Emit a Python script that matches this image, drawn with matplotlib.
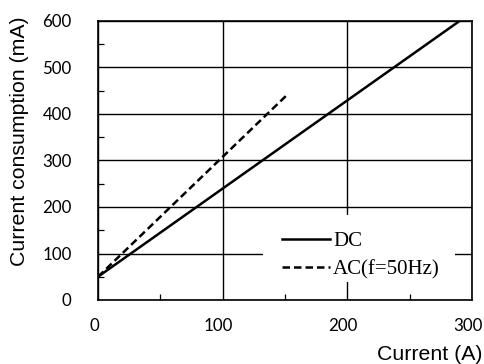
"""Current consumption vs. measured current, DC and AC (50 Hz)."""

import matplotlib

matplotlib.use("Agg")
import matplotlib.pyplot as plt
from matplotlib.patches import Rectangle
from matplotlib.ticker import MultipleLocator
from matplotlib.transforms import ScaledTranslation

# values
DC_CURRENT = [0, 290]
DC_CONSUMPTION = [50, 600]
AC_CURRENT = [0, 152]
AC_CONSUMPTION = [50, 442]

X_TICKS = [0, 100, 200, 300]
Y_TICKS = [0, 100, 200, 300, 400, 500, 600]

TICK_FONT = ["Lato", "DejaVu Sans"]
LABEL_FONT = ["Liberation Sans", "DejaVu Sans"]
LEGEND_FONT = ["Liberation Serif", "DejaVu Serif"]


def main() -> None:
    fig = plt.figure(figsize=(4.85, 3.64), dpi=100, facecolor="white")
    ax = fig.add_axes([98 / 485, 1 - 300 / 364, (472 - 98) / 485, (300 - 21) / 364])

    ax.plot(DC_CURRENT, DC_CONSUMPTION, color="black", linewidth=1.8, label="DC", zorder=3)
    ax.plot(AC_CURRENT, AC_CONSUMPTION, color="black", linewidth=1.8,
            linestyle=(0, (3, 1.6)), label="AC(f=50Hz)", zorder=3)

    ax.set_xlim(0, 300)
    ax.set_ylim(0, 600)
    ax.set_xticks(X_TICKS)
    ax.set_yticks(Y_TICKS)
    ax.xaxis.set_minor_locator(MultipleLocator(50))
    ax.yaxis.set_minor_locator(MultipleLocator(50))
    ax.grid(True, which="major", color="black", linewidth=1.0, zorder=1)
    ax.tick_params(axis="x", which="major", length=0, pad=13, labelsize=12.2)
    ax.tick_params(axis="y", which="major", length=0, pad=19, labelsize=12.2)
    ax.tick_params(axis="both", which="minor", direction="in", length=4, width=0.9)
    # x tick labels sit a little left of their grid lines in the original
    shift = ScaledTranslation(-4 / 100, 0, fig.dpi_scale_trans)
    for label in ax.get_xticklabels():
        label.set_transform(label.get_transform() + shift)
    for label in ax.get_xticklabels() + ax.get_yticklabels():
        label.set_family(TICK_FONT)
    for spine in ax.spines.values():
        spine.set_linewidth(1.2)
        spine.set_color("black")

    fig.text(20 / 485, 1 - 141 / 364, "Current consumption (mA)", family=LABEL_FONT,
             fontsize=15.3, rotation=90, ha="center", va="center")
    fig.text(483 / 485, 1 - 354 / 364, "Current (A)", family=LABEL_FONT, fontsize=15.3,
             ha="right", va="center")

    # white patch behind the legend, hides the grid there
    ax.add_patch(Rectangle((0.441, 0.065), 0.513, 0.24, transform=ax.transAxes,
                           facecolor="white", edgecolor="none", zorder=2))
    leg = ax.legend(loc="upper left", bbox_to_anchor=(0.492, 0.245), frameon=False,
                    prop={"family": LEGEND_FONT, "size": 15}, handlelength=2.3,
                    handletextpad=0.15, labelspacing=0.4, borderpad=0.0,
                    borderaxespad=0.0)
    leg.set_zorder(4)

    fig.savefig("out.png", dpi=100, facecolor="white")
    plt.close(fig)


if __name__ == "__main__":
    main()
